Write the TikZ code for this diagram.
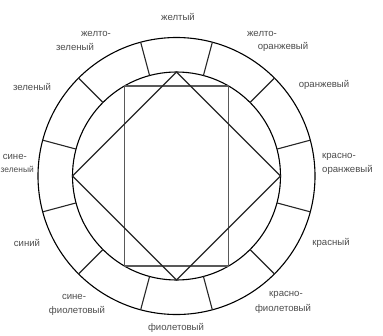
\documentclass[tikz,border=0pt]{standalone}
\usepackage{fontspec}
\setmainfont{Liberation Sans}
\begin{document}
\begin{tikzpicture}[x=1pt,y=-1pt,
  ring/.style={circle,draw,line width=1.1pt,inner sep=0pt,outer sep=0pt},
  ln/.style={line width=1.1pt,black!85},
  rectln/.style={line width=1.5pt,black!65},
  lbl/.style={inner sep=0pt,font=\fontsize{9.6}{10}\selectfont,text=black!70}]
\useasboundingbox (0,0) rectangle (383,335);
\coordinate (c) at (176.5,176);
\node[ring,minimum size=277pt] (outer) at (c) {};
\node[ring,minimum size=208pt] (inner) at (c) {};
\foreach \a in {15,45,...,345} \draw[ln] (inner.\a) -- (outer.\a);
\draw[rectln] (inner.60) -- (inner.120) -- (inner.240) -- (inner.300) -- cycle;
\draw[ln,line join=miter] (inner.north) -- (inner.east) -- (inner.south) -- (inner.west) -- cycle;
% labels
\node[lbl] (l1) at (178,17) {желтый};
\node[lbl] (l2a) at (96,34) {желто-};
\node[lbl] (l2b) at (75,47) {зеленый};
\node[lbl] (l3a) at (262,34) {желто-};
\node[lbl] (l3b) at (283,47) {оранжевый};
\node[lbl] (l4) at (32,87) {зеленый};
\node[lbl] (l5) at (324,85) {оранжевый};
\node[lbl,anchor=east] (l6a) at (27,157) {сине-};
\node[lbl,anchor=west,font=\fontsize{8.4}{10}\selectfont] (l6b) at (0.5,169) {зеленый};
\node[lbl,anchor=west] (l7a) at (322,157) {красно-};
\node[lbl,anchor=west] (l7b) at (322,170) {оранжевый};
\node[lbl] (l8) at (27,243) {синий};
\node[lbl] (l9) at (331,243) {красный};
\node[lbl] (l10a) at (286,295) {красно-};
\node[lbl] (l10b) at (283,309) {фиолетовый};
\node[lbl] (l11a) at (74,297) {сине-};
\node[lbl] (l11b) at (77,311) {фиолетовый};
\node[lbl] (l12) at (176,328) {фиолетовый};
\end{tikzpicture}
\end{document}
